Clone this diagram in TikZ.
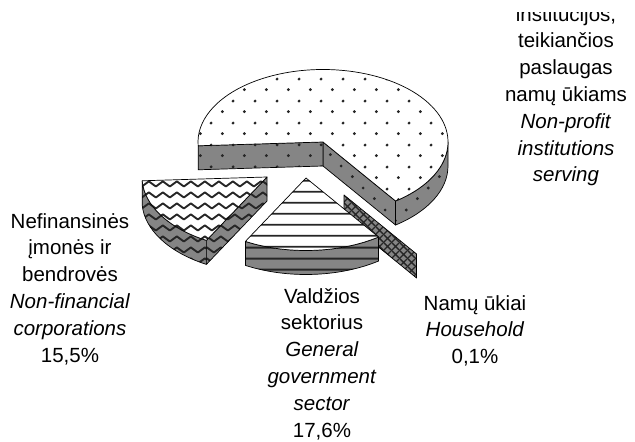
\documentclass[tikz,border=0pt]{standalone}
\usepackage{fontspec}
\setmainfont{Liberation Sans}
\usepackage{tikz}
\usetikzlibrary{patterns,patterns.meta,calc}
\usepackage{xcolor}

\definecolor{sidegray}{gray}{0.52}

% fill patterns of the slices
\tikzdeclarepattern{name=pdots, type=uncolored,
  bottom left={(0pt,0pt)}, top right={(21.7pt,21.6pt)}, tile size={(21.7pt,21.6pt)},
  code={\fill (5.4pt,5.4pt) circle (1.6pt); \fill (16.25pt,16.2pt) circle (1.6pt);}}
\tikzdeclarepattern{name=pwave, type=uncolored,
  bottom left={(0pt,0pt)}, top right={(14.3pt,11pt)}, tile size={(14.3pt,11pt)},
  code={\draw[line width=2pt, line join=round] (-7.15pt,8.2pt) -- (0pt,2.8pt) -- (7.15pt,8.2pt) -- (14.3pt,2.8pt) -- (21.45pt,8.2pt);}}
\tikzdeclarepattern{name=plines, type=uncolored,
  bottom left={(0pt,0pt)}, top right={(10pt,11.2pt)}, tile size={(10pt,11.2pt)},
  code={\draw[line width=2pt] (-1pt,5.6pt) -- (11pt,5.6pt);}}
\tikzdeclarepattern{name=pcross, type=uncolored,
  bottom left={(0pt,0pt)}, top right={(8pt,8pt)}, tile size={(8pt,8pt)},
  code={\draw[line width=1.5pt] (-1pt,-1pt) -- (9pt,9pt) (-1pt,9pt) -- (9pt,-1pt);}}

\begin{document}
\begin{tikzpicture}[x=1pt, y=1pt, x radius=125, y radius=72.5,
	topface/.style={preaction={fill=white}, pattern=#1, pattern color=black!85, draw=black, line width=0.7pt, line join=round},
	sideface/.style={preaction={fill=sidegray}, pattern=#1, pattern color=black!85, draw=black, line width=0.7pt, line join=round},
	lbl/.style={font=\fontsize{20.5}{26.8}\selectfont, align=center, inner sep=0pt}]
	\useasboundingbox (0,0) rectangle (635,442);
	\coordinate (bigc) at (323,300);
	\coordinate (hhc) at (344,247);
	\coordinate (nfcc) at (267,265);
	\coordinate (govc) at (306,264);
	% big slice
	\draw[sideface=pdots] (bigc) -- ++(-54.5:125 and 72.5) -- ++(0,-24) -- ++(125.5:125 and 72.5) -- cycle;
	\draw[sideface=pdots] (bigc) -- ++(183:125 and 72.5) -- ++(0,-24) -- ++(3:125 and 72.5) -- cycle;
	\draw[sideface=pdots] (bigc) ++(-54.5:125 and 72.5) arc[start angle=-54.5, end angle=0] -- ++(0,-24) arc[start angle=0, end angle=-54.5] -- cycle;
	\draw[topface=pdots] (bigc) -- ++(-54.5:125 and 72.5) arc[start angle=-54.5, end angle=183] -- cycle;
	% households
	\draw[sideface=pcross] (hhc) -- ++(-54.5:125 and 72.5) -- ++(0,-24) -- ++(125.5:125 and 72.5) -- cycle;
	% non-financial corporations
	\draw[sideface=pwave] (nfcc) ++(183:125 and 72.5) arc[start angle=183, end angle=241] -- ++(0,-24) arc[start angle=241, end angle=183] -- cycle;
	\draw[sideface=pwave] (nfcc) -- ++(241:125 and 72.5) -- ++(0,-24) -- ++(61:125 and 72.5) -- cycle;
	\draw[topface=pwave] (nfcc) -- ++(183:125 and 72.5) arc[start angle=183, end angle=241] -- cycle;
	% general government
	\draw[sideface=plines] (govc) ++(241:125 and 72.5) arc[start angle=241, end angle=305.5] -- ++(0,-24) arc[start angle=305.5, end angle=241] -- cycle;
	\draw[topface=plines] (govc) -- ++(241:125 and 72.5) arc[start angle=241, end angle=305.5] -- cycle;
	% labels
	\node[lbl, anchor=north] (nfclbl) at (70,229) {Nefinansinės\\įmonės ir\\bendrovės\\\textit{Non-financial}\\\textit{corporations}\\15,5\%};
	\node[lbl, anchor=north] (govlbl) at (322,154) {Valdžios\\sektorius\\\textit{General}\\\textit{government}\\\textit{sector}\\17,6\%};
	\node[lbl, anchor=north] (hhlbl) at (475,147) {Namų ūkiai\\\textit{Household}\\0,1\%};
	\begin{scope}
		\clip (0,0) rectangle (635,429);
		\node[lbl, anchor=north] (npilbl) at (566,436) {institucijos,\\teikiančios\\paslaugas\\namų ūkiams\\\textit{Non-profit}\\\textit{institutions}\\\textit{serving}};
	\end{scope}
\end{tikzpicture}
\end{document}
